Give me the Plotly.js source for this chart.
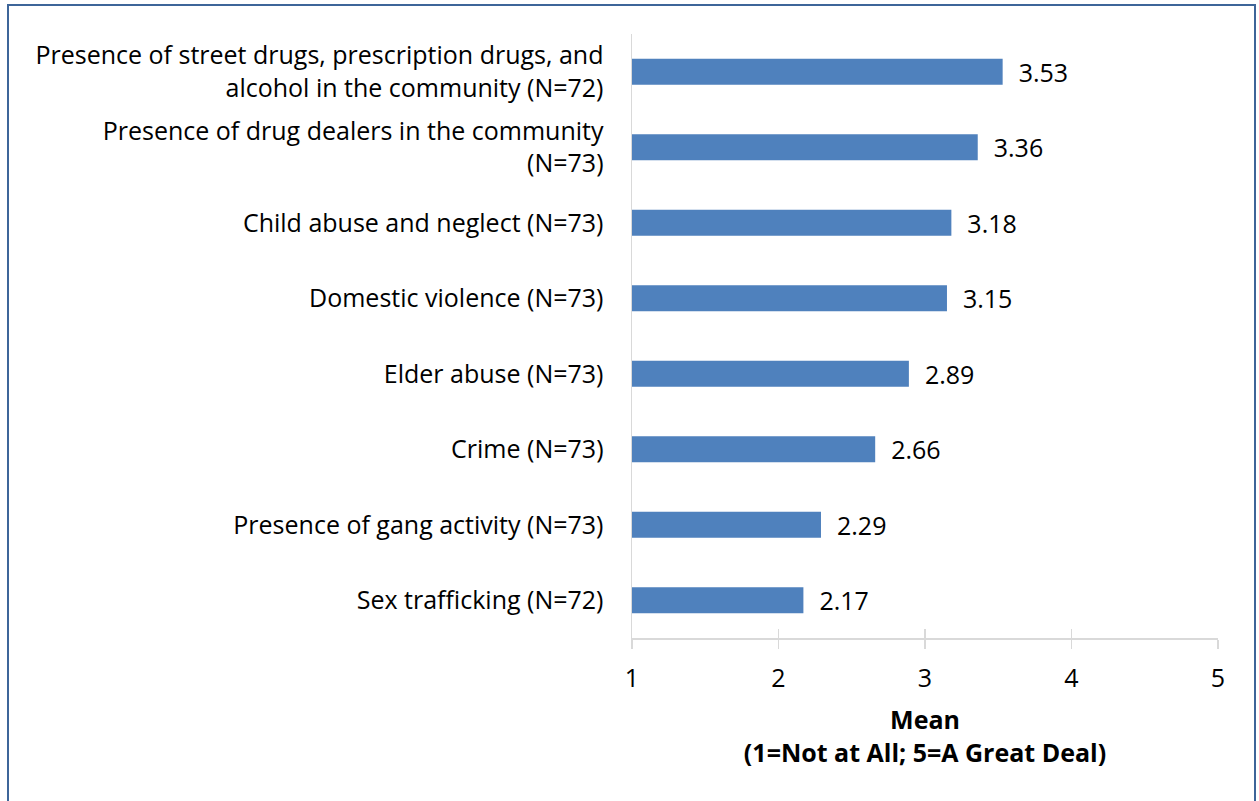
<!DOCTYPE html>
<html>
<head>
<meta charset="utf-8">
<script src="https://cdn.plot.ly/plotly-3.0.1.min.js"></script>
<style>
html,body{margin:0;padding:0;background:#fff;}
#chart{width:1259px;height:801px;}
</style>
</head>
<body>
<div id="chart"></div>
<script>
const categories = [
  "Presence of street drugs, prescription drugs, and<br>alcohol in the community (N=72)",
  "Presence of drug dealers in the community<br>(N=73)",
  "Child abuse and neglect (N=73)",
  "Domestic violence (N=73)",
  "Elder abuse (N=73)",
  "Crime (N=73)",
  "Presence of gang activity (N=73)",
  "Sex trafficking (N=72)"
];
const means = [3.53, 3.36, 3.18, 3.15, 2.89, 2.66, 2.29, 2.17];
const tickVals = [1, 2, 3, 4, 5];
const axisTitle = "<b>Mean</b><br><b>(1=Not at All; 5=A Great Deal)</b>";

const W = 1259, H = 801;
const m = {l: 632, r: 41, t: 34, b: 163};
const pw = W - m.l - m.r, ph = H - m.t - m.b;
const px = x => (x - m.l) / pw;
const py = y => 1 - (y - m.t) / ph;

const FONT = "'Open Sans', Lato, sans-serif";
const FS = 25;
const baseVal = tickVals[0];

const trace = {
  type: 'bar',
  orientation: 'h',
  y: categories,
  x: means.map(v => v - baseVal),
  base: baseVal,
  text: means.map(v => '\u00a0\u00a0' + v.toFixed(2)),
  textposition: 'outside',
  constraintext: 'none',
  textfont: {family: FONT, size: FS, color: '#000'},
  cliponaxis: false,
  marker: {color: '#4f81bd'},
  width: 0.345,
  hoverinfo: 'skip'
};

const ghost = {type: 'scatter', x: [baseVal], y: [categories[0]], xaxis: 'x2', mode: 'markers',
  marker: {opacity: 0}, hoverinfo: 'skip', showlegend: false};

const layout = {
  width: W, height: H,
  margin: m,
  paper_bgcolor: '#fff',
  plot_bgcolor: '#fff',
  showlegend: false,
  font: {family: FONT, size: FS, color: '#000'},
  xaxis: {
    range: [1, 5],
    tickvals: tickVals,
    ticktext: tickVals.map(String),
    showgrid: false,
    zeroline: false,
    showline: true,
    linecolor: '#d9d9d9',
    linewidth: 1.5,
    ticks: 'outside',
    ticklen: 9,
    tickwidth: 1.5,
    tickcolor: '#d9d9d9',
    ticklabelstandoff: 8,
    tickfont: {family: FONT, size: FS, color: '#000'},
    fixedrange: true,
    title: {text: axisTitle, font: {family: FONT, size: FS, color: '#000'}, standoff: 19}
  },
  xaxis2: {
    overlaying: 'x',
    matches: 'x',
    range: [1, 5],
    tickvals: tickVals,
    showticklabels: false,
    showgrid: false,
    zeroline: false,
    ticks: 'inside',
    ticklen: 9,
    tickwidth: 1.5,
    tickcolor: '#d9d9d9',
    side: 'bottom'
  },
  yaxis: {
    autorange: 'reversed',
    showgrid: false,
    zeroline: false,
    showline: true,
    linecolor: '#d9d9d9',
    linewidth: 1.5,
    ticks: '',
    ticklabelstandoff: 22,
    tickfont: {family: FONT, size: FS, color: '#000'},
    fixedrange: true
  },
  shapes: [{
    type: 'rect', xref: 'paper', yref: 'paper',
    x0: px(8), x1: px(1255), y0: py(5), y1: py(820),
    line: {color: '#3d6599', width: 2}, fillcolor: 'rgba(0,0,0,0)'
  }]
};

Plotly.newPlot('chart', [trace, ghost], layout, {displayModeBar: false, staticPlot: true});
</script>
</body>
</html>
